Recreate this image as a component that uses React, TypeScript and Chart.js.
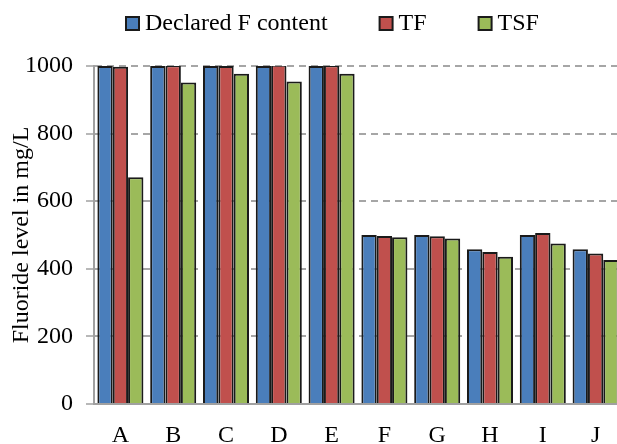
import React, { useEffect, useRef } from "react";
import { Chart, registerables } from "chart.js";

Chart.register(...registerables);

const categories = ["A", "B", "C", "D", "E", "F", "G", "H", "I", "J"];
const declaredF = [1000, 1000, 1000, 1000, 1000, 500, 500, 458, 500, 458];
const tfValues = [998, 1002, 1000, 1004, 1002, 497, 496, 450, 506, 445];
const tsfValues = [671, 951, 977, 954, 977, 493, 490, 436, 475, 426];
const seriesNames = ["Declared F content", "TF", "TSF"];
const yTicks = [0, 200, 400, 600, 800, 1000];
const yTitle = "Fluoride level in mg/L";

const COLORS = ["#4a7ebb", "#c0504d", "#9bbb59"];
const FONT = '"Liberation Serif", "Times New Roman", serif';

const legendAndTitle = {
  id: "customLegendTitle",
  afterDraw(chart: any) {
    const ctx = chart.ctx;
    ctx.save();
    ctx.font = `24px ${FONT}`;
    ctx.textBaseline = "middle";
    ctx.textAlign = "left";
    let x = 126;
    const boxY = 17;
    chart.data.datasets.forEach((ds: any) => {
      ctx.fillStyle = ds.backgroundColor;
      ctx.fillRect(x, boxY, 13, 13);
      ctx.strokeStyle = "#1a1a1a";
      ctx.lineWidth = 2;
      ctx.strokeRect(x, boxY, 13, 13);
      ctx.fillStyle = "#000";
      ctx.fillText(ds.label, x + 19, 24);
      x += 19 + ctx.measureText(ds.label).width + 52;
    });
    // y-axis title
    const area = chart.chartArea;
    ctx.translate(22, (area.top + area.bottom) / 2);
    ctx.rotate(-Math.PI / 2);
    ctx.textAlign = "center";
    ctx.fillText(yTitle, 0, 0);
    ctx.restore();
  },
};

export default function App() {
  const ref = useRef<HTMLCanvasElement | null>(null);
  useEffect(() => {
    document.documentElement.style.overflow = "hidden";
    document.body.style.margin = "0";
    const chart = new Chart(ref.current as HTMLCanvasElement, {
      type: "bar",
      data: {
        labels: categories,
        datasets: [declaredF, tfValues, tsfValues].map((d, i) => ({
          label: seriesNames[i],
          data: d,
          backgroundColor: COLORS[i],
          borderColor: "#1a1a1a",
          borderWidth: 2,
          categoryPercentage: 0.872,
          barPercentage: 1,
        })),
      },
      options: {
        animation: false,
        responsive: false,
        maintainAspectRatio: false,
        layout: { padding: { top: 66, left: 0, right: 0, bottom: 0 } },
        plugins: { legend: { display: false }, tooltip: { enabled: false } },
        scales: {
          x: {
            grid: { display: false, drawTicks: false },
            border: { display: true, color: "#a0a0a0", width: 2 },
            ticks: { color: "#000", font: { family: FONT, size: 24 }, padding: 17 },
            afterFit: (s: any) => {
              s.height = 40;
            },
          },
          y: {
            min: 0,
            max: 1000,
            afterBuildTicks: (s: any) => {
              s.ticks = yTicks.map((v) => ({ value: v }));
            },
            grid: {
              color: "#a6a6a6",
              lineWidth: 2,
              tickLength: 8,
              tickColor: "#a0a0a0",
              tickWidth: 1.5,
              tickBorderDash: [],
            },
            border: { display: true, color: "#a0a0a0", width: 2, dash: [7, 5] },
            ticks: {
              color: "#000",
              font: { family: FONT, size: 24 },
              padding: 13,
              callback: (v: any) => String(v),
            },
            afterFit: (s: any) => {
              s.width = 94;
            },
          },
        },
      },
      plugins: [legendAndTitle],
    });
    return () => chart.destroy();
  }, []);
  return (
    <div style={{ position: "fixed", left: 0, top: 0, width: 622, height: 444 }}>
      <canvas ref={ref} width={622} height={444} style={{ width: 622, height: 444 }} />
    </div>
  );
}
